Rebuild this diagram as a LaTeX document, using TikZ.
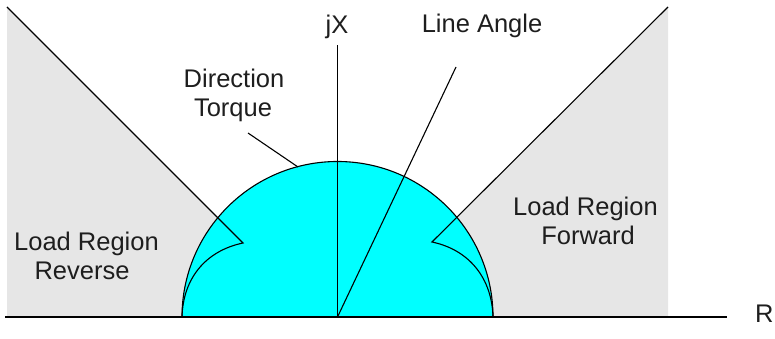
\documentclass[tikz,border=0pt]{standalone}
\usepackage{xcolor}
\usepackage{fontspec}
\setmainfont{Liberation Sans}
\usepackage{tikz}
\usetikzlibrary{positioning}

\definecolor{regiongray}{RGB}{230,230,230}
\definecolor{torquecyan}{RGB}{0,255,255}
\definecolor{labeltext}{RGB}{30,30,30}

\begin{document}
\begin{tikzpicture}[
    x=1pt, y=1pt,
    thinline/.style={draw=black, line width=1.1pt},
    plotlabel/.style={anchor=base, inner sep=0pt, text=labeltext, font=\fontsize{25.5}{29}\selectfont},
]
    \useasboundingbox (0,0) rectangle (775,339);

    \coordinate (origin) at (337.5,22);
    \coordinate (tipL) at (243,96);
    \coordinate (tipR) at (432,97);
    \coordinate (topL) at (7,332);
    \coordinate (topR) at (668,332);

    % Load regions
    \fill[regiongray] (topL) -- (tipL) .. controls (205,88) and (183,60) .. (182,22) -- (7,22) -- cycle;
    \fill[regiongray] (topR) -- (tipR) .. controls (470,89) and (492,60) .. (493,22) -- (668,22) -- cycle;

    % Direction torque
    \fill[torquecyan] (182,22) arc[start angle=180, end angle=0, radius=155.5] -- cycle;
    \draw[thinline] (182,22) arc[start angle=180, end angle=0, radius=155.5];

    \draw[thinline] (topL) -- (tipL) .. controls (205,88) and (183,60) .. (182,22);
    \draw[thinline] (topR) -- (tipR) .. controls (470,89) and (492,60) .. (493,22);

    % Axes
    \coordinate (xstart) at (5,22);
    \coordinate (xend) at (727,22);
    \coordinate (yend) at (337.5,294);
    \draw[thinline] (xstart) -- (xend);
    \draw[thinline] (origin) -- (yend);

    \node[plotlabel] (jx) at (337,305) {jX};
    \node[plotlabel, anchor=base west] (re) at (755,16) {R};

    % Line angle
    \node[plotlabel] (lineangle) at (482,306) {Line Angle};
    \coordinate (angleend) at (456,272);
    \draw[thinline] (origin) -- (angleend);

    % Labels
    \node[plotlabel] (direction) at (234,251) {Direction};
    \node[plotlabel] (torque) at (233,222) {Torque};
    \coordinate (torquetip) at (248,206);
    \coordinate (torquearc) at (298,172);
    \draw[thinline] (torquetip) -- (torquearc);

    \node[plotlabel] (loadrev) at (86.5,88) {Load Region};
    \node[plotlabel] (reverse) at (82,59) {Reverse};
    \node[plotlabel] (loadfwd) at (585.5,123) {Load Region};
    \node[plotlabel] (forward) at (588,94) {Forward};
\end{tikzpicture}
\end{document}
